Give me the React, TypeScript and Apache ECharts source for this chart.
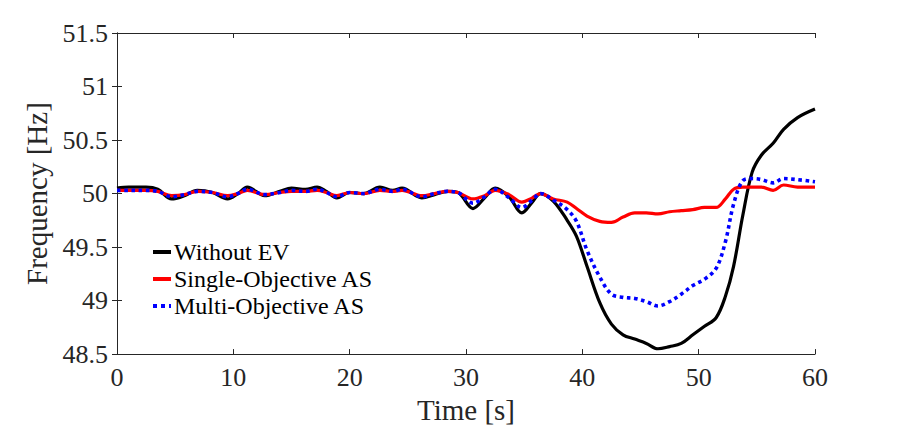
import React, { useEffect, useRef } from "react";
import * as echarts from "echarts";

const timeS = [
  0, 1, 2.5, 3.5, 4.7, 5.8, 6.9, 8.2, 9.5, 10.4, 11.2, 12.7, 14, 15, 16.2, 17.2, 18, 18.9, 20,
  21.2, 22.6, 23.7, 24.5, 26.2, 27.3, 28.4, 29.3, 30.6, 31.6, 32.5, 33.7, 34.8, 35.7, 36.4,
  37.5, 38.7, 39.5, 40.4, 41.5, 42.5, 43.5, 44.5, 45.5, 46.5, 47.5, 48.5, 49.5, 50.5, 51.5,
  52.3, 53, 53.8, 54.6, 55.4, 56.4, 57.3, 58.5, 60,
];

const withoutEV = [
  50.05, 50.06, 50.06, 50.04, 49.95, 49.98, 50.03, 50.01, 49.95, 50.0, 50.06, 49.98, 50.02,
  50.05, 50.04, 50.06, 50.02, 49.96, 50.01, 50.0, 50.06, 50.03, 50.05, 49.96, 49.99, 50.02,
  50.01, 49.86, 49.96, 50.05, 49.97, 49.82, 49.92, 50.0, 49.93, 49.75, 49.6, 49.32, 48.98,
  48.78, 48.68, 48.64, 48.6, 48.55, 48.57, 48.6, 48.68, 48.76, 48.84, 49.04, 49.32, 49.8,
  50.2, 50.36, 50.47, 50.6, 50.71, 50.79,
];

const singleObjective = [
  50.03, 50.03, 50.03, 50.02, 49.98, 49.99, 50.02, 50.01, 49.98, 50.0, 50.03, 49.99, 50.01,
  50.02, 50.02, 50.03, 50.01, 49.98, 50.01, 50.0, 50.03, 50.02, 50.03, 49.98, 50.0, 50.02,
  50.01, 49.95, 49.98, 50.03, 49.99, 49.92, 49.96, 50.0, 49.95, 49.92, 49.86, 49.79, 49.74,
  49.73, 49.78, 49.82, 49.82, 49.81, 49.83, 49.84, 49.85, 49.87, 49.87, 49.95, 50.04, 50.06,
  50.06, 50.06, 50.03, 50.08, 50.06, 50.06,
];

const multiObjective = [
  50.03, 50.03, 50.03, 50.02, 49.97, 49.99, 50.02, 50.01, 49.97, 50.0, 50.04, 49.99, 50.01,
  50.03, 50.02, 50.04, 50.01, 49.97, 50.01, 50.0, 50.04, 50.02, 50.04, 49.97, 50.0, 50.02,
  50.01, 49.91, 49.97, 50.04, 49.96, 49.87, 49.94, 50.0, 49.94, 49.85, 49.74, 49.47, 49.22,
  49.06, 49.03, 49.02, 48.99, 48.95, 48.99, 49.06, 49.14, 49.2, 49.3, 49.55, 49.9, 50.12,
  50.14, 50.13, 50.1, 50.14, 50.13, 50.11,
];

const seriesNames = ["Without EV", "Single-Objective AS", "Multi-Objective AS"];
const yTicks = { min: 48.5, max: 51.5, interval: 0.5 };
const xTicks = { min: 0, max: 60, interval: 10 };

const FONT = "'Liberation Serif', 'Times New Roman', serif";
const AXIS_COLOR = "#262626";

function pairs(vals: number[]) {
  return timeS.map((t, i) => [t, vals[i]]);
}

export default function App() {
  const ref = useRef<HTMLDivElement>(null);
  useEffect(() => {
    if (!ref.current) return;
    const chart = echarts.init(ref.current, undefined, { renderer: "svg" });
    const axisLine = { show: true, lineStyle: { color: AXIS_COLOR, width: 1 } };
    const tick = { show: true, inside: true, length: 5, lineStyle: { color: AXIS_COLOR, width: 1 } };
    chart.setOption({
      animation: false,
      backgroundColor: "#ffffff",
      grid: { left: 117, right: 85, top: 33, bottom: 74, containLabel: false },
      legend: {
        orient: "vertical",
        left: 146,
        top: 235,
        itemWidth: 18,
        itemHeight: 14,
        itemGap: 3,
        itemStyle: { opacity: 0 },
        lineStyle: { width: 4 },
        textStyle: { fontFamily: FONT, fontSize: 24, color: "#000", padding: [0, 0, 0, -2] },
        data: seriesNames,
      },
      xAxis: [
        {
          type: "value",
          position: "bottom",
          ...xTicks,
          axisLine,
          axisTick: tick,
          splitLine: { show: false },
          axisLabel: { fontFamily: FONT, fontSize: 26, color: AXIS_COLOR, margin: 10 },
          name: "Time [s]",
          nameLocation: "middle",
          nameGap: 40,
          nameTextStyle: { fontFamily: FONT, fontSize: 29, color: AXIS_COLOR },
        },
        {
          type: "value",
          position: "top",
          ...xTicks,
          axisLine,
          axisTick: tick,
          splitLine: { show: false },
          axisLabel: { show: false },
        },
      ],
      yAxis: [
        {
          type: "value",
          position: "left",
          ...yTicks,
          axisLine,
          axisTick: tick,
          splitLine: { show: false },
          axisLabel: { fontFamily: FONT, fontSize: 26, color: AXIS_COLOR, margin: 9 },
          name: "Frequency [Hz]",
          nameLocation: "middle",
          nameGap: 56,
          nameTextStyle: { fontFamily: FONT, fontSize: 29, color: AXIS_COLOR },
        },
        {
          type: "value",
          position: "right",
          ...yTicks,
          axisLine,
          axisTick: tick,
          splitLine: { show: false },
          axisLabel: { show: false },
        },
      ],
      series: [
        {
          name: seriesNames[0],
          type: "line",
          data: pairs(withoutEV),
          smooth: 0.35,
          symbol: "none",
          lineStyle: { color: "#000000", width: 3.2 },
          itemStyle: { color: "#000000" },
        },
        {
          name: seriesNames[1],
          type: "line",
          data: pairs(singleObjective),
          smooth: 0.35,
          symbol: "none",
          lineStyle: { color: "#ff0000", width: 3.2 },
          itemStyle: { color: "#ff0000" },
        },
        {
          name: seriesNames[2],
          type: "line",
          data: pairs(multiObjective),
          smooth: 0.35,
          symbol: "none",
          lineStyle: { color: "#0000ff", width: 3.6, type: "dotted" },
          itemStyle: { color: "#0000ff" },
        },
      ],
    });
    return () => chart.dispose();
  }, []);
  return (
    <div
      ref={ref}
      style={{ position: "fixed", left: 0, top: 0, width: 900, height: 429, background: "#fff" }}
    />
  );
}
